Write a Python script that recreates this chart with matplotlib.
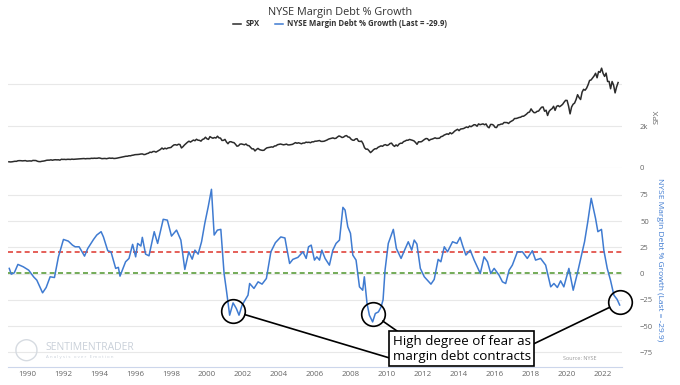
import matplotlib
matplotlib.use("Agg")
import matplotlib.pyplot as plt

plt.rcParams["font.family"] = ["Open Sans", "DejaVu Sans"]

# ---- data ----
spx_start = 1989.0
spx = [
    297, 289, 295, 310, 321, 318, 346, 351, 349, 340, 346, 353,
    329, 332, 340, 331, 361, 358, 356, 323, 306, 304, 322, 330,
    344, 367, 375, 375, 390, 371, 388, 395, 388, 392, 375, 417,
    409, 413, 404, 415, 415, 408, 424, 414, 418, 419, 431, 436,
    439, 443, 452, 440, 450, 451, 448, 464, 459, 468, 462, 466,
    482, 467, 446, 451, 457, 444, 458, 475, 463, 472, 454, 459,
    470, 487, 501, 515, 533, 545, 562, 562, 584, 582, 605, 616,
    636, 640, 645, 654, 669, 671, 640, 652, 687, 705, 757, 741,
    786, 791, 757, 801, 848, 885, 954, 899, 947, 915, 955, 970,
    980, 1049, 1102, 1112, 1091, 1134, 1121, 957, 1017, 1099, 1164, 1229,
    1280, 1238, 1286, 1335, 1302, 1373, 1329, 1320, 1283, 1363, 1389, 1469,
    1394, 1366, 1499, 1452, 1421, 1455, 1431, 1518, 1437, 1429, 1315, 1320,
    1366, 1240, 1160, 1249, 1256, 1224, 1211, 1134, 1041, 1060, 1139, 1148,
    1130, 1107, 1147, 1077, 1067, 990, 912, 916, 815, 886, 936, 880,
    856, 841, 848, 917, 964, 975, 990, 1008, 996, 1051, 1058, 1112,
    1131, 1145, 1126, 1107, 1121, 1141, 1102, 1104, 1115, 1130, 1174, 1212,
    1181, 1204, 1181, 1157, 1192, 1191, 1234, 1220, 1229, 1207, 1249, 1248,
    1280, 1281, 1295, 1311, 1270, 1270, 1277, 1304, 1336, 1378, 1401, 1418,
    1438, 1407, 1421, 1482, 1531, 1503, 1455, 1474, 1527, 1549, 1481, 1468,
    1379, 1331, 1323, 1386, 1400, 1280, 1267, 1283, 1166, 969, 896, 903,
    826, 735, 798, 873, 919, 919, 987, 1021, 1057, 1036, 1096, 1115,
    1074, 1104, 1169, 1187, 1089, 1031, 1102, 1049, 1141, 1183, 1181, 1258,
    1286, 1327, 1326, 1364, 1345, 1321, 1292, 1219, 1131, 1253, 1247, 1258,
    1312, 1366, 1408, 1398, 1310, 1362, 1379, 1407, 1441, 1412, 1416, 1426,
    1498, 1515, 1569, 1598, 1631, 1606, 1686, 1633, 1682, 1757, 1806, 1848,
    1783, 1859, 1872, 1884, 1924, 1960, 1931, 2003, 1972, 2018, 2068, 2059,
    1995, 2105, 2068, 2086, 2107, 2063, 2104, 1972, 1920, 2079, 2080, 2044,
    1940, 1932, 2060, 2065, 2097, 2099, 2174, 2171, 2168, 2126, 2199, 2239,
    2279, 2364, 2363, 2384, 2412, 2423, 2470, 2472, 2519, 2575, 2648, 2674,
    2824, 2714, 2641, 2648, 2705, 2718, 2816, 2902, 2914, 2711, 2760, 2507,
    2704, 2784, 2834, 2946, 2752, 2942, 2980, 2926, 2977, 3038, 3141, 3231,
    3226, 2954, 2585, 2912, 3044, 3100, 3271, 3500, 3363, 3270, 3622, 3756,
    3714, 3811, 3973, 4181, 4204, 4298, 4395, 4523, 4308, 4605, 4567, 4766,
    4516, 4374, 4530, 4132, 4132, 3785, 4130, 3955, 3586, 3872, 4080,
]
spx_years = [spx_start + i / 12 for i in range(len(spx))]

debt_years = [
    1989.02, 1989.13, 1989.30, 1989.50, 1989.80, 1990.10, 1990.37, 1990.55, 1990.87,
    1991.07, 1991.29, 1991.53, 1991.75, 1992.03, 1992.30, 1992.53, 1992.68, 1992.90,
    1993.20, 1993.38, 1993.70, 1993.88, 1994.12, 1994.25, 1994.49, 1994.67, 1994.93,
    1995.08, 1995.17, 1995.48, 1995.67, 1995.87, 1996.04, 1996.15, 1996.33, 1996.41,
    1996.59, 1996.78, 1997.07, 1997.26, 1997.39, 1997.57, 1997.80, 1998.03, 1998.31,
    1998.55, 1998.77, 1998.99, 1999.18, 1999.33, 1999.51, 1999.70, 1999.88, 2000.07,
    2000.25, 2000.40, 2000.58, 2000.77, 2000.95, 2001.08, 2001.26, 2001.45, 2001.63,
    2001.78, 2001.95, 2002.28, 2002.37, 2002.61, 2002.84, 2003.06, 2003.30, 2003.55,
    2003.80, 2004.10, 2004.33, 2004.40, 2004.59, 2004.77, 2005.05, 2005.33, 2005.51,
    2005.64, 2005.79, 2005.97, 2006.10, 2006.25, 2006.38, 2006.56, 2006.80, 2006.99,
    2007.17, 2007.36, 2007.55, 2007.67, 2007.82, 2007.97, 2008.10, 2008.28, 2008.47,
    2008.65, 2008.74, 2008.89, 2009.02, 2009.20, 2009.35, 2009.52, 2009.67, 2009.78,
    2009.89, 2010.07, 2010.35, 2010.52, 2010.78, 2010.96, 2011.18, 2011.37, 2011.51,
    2011.66, 2011.85, 2012.07, 2012.44, 2012.62, 2012.84, 2012.99, 2013.18, 2013.36,
    2013.64, 2013.88, 2014.06, 2014.19, 2014.38, 2014.62, 2014.84, 2015.18, 2015.39,
    2015.58, 2015.76, 2015.95, 2016.22, 2016.41, 2016.59, 2016.78, 2016.96, 2017.24,
    2017.52, 2017.79, 2018.07, 2018.25, 2018.53, 2018.81, 2019.09, 2019.27, 2019.46,
    2019.64, 2019.82, 2020.10, 2020.34, 2020.57, 2020.80, 2020.97, 2021.15, 2021.34,
    2021.58, 2021.71, 2021.91, 2022.04, 2022.23, 2022.41, 2022.60, 2022.78, 2022.92,
]
debt_growth = [
    5.0, -0.5, 0.8, 8.8, 6.5, 3.3, -3.0, -6.2, -18.3,
    -13.2, -3.0, -3.7, 16.0, 32.6, 31.0, 27.2, 25.6, 25.6,
    16.7, 24.0, 32.6, 36.8, 40.0, 35.0, 21.8, 20.8, 5.0,
    6.0, -2.4, 11.3, 14.5, 27.9, 16.0, 28.8, 26.3, 34.6,
    18.6, 17.0, 40.0, 28.8, 38.4, 51.8, 51.0, 35.8, 41.5,
    32.0, 4.0, 20.8, 13.8, 22.4, 18.6, 30.4, 48.0, 63.8,
    80.4, 36.8, 41.5, 42.2, 0.2, -15.8, -39.6, -27.9, -33.2,
    -39.6, -30.0, -20.5, -9.4, -14.1, -7.8, -10.0, -4.6, 20.8,
    29.5, 35.0, 34.0, 27.2, 9.7, 13.6, 15.5, 20.8, 14.5,
    25.6, 27.2, 12.9, 16.0, 12.9, 22.4, 14.5, 8.1, 22.4,
    28.8, 32.0, 63.2, 60.6, 44.7, 38.4, 17.7, 12.9, -12.6,
    -15.8, -3.0, -28.5, -39.6, -46.0, -38.0, -36.5, -31.7, -25.0,
    3.3, 28.8, 42.2, 24.0, 14.5, 21.8, 30.4, 22.4, 32.0,
    28.2, 5.0, -3.0, -10.0, -5.5, 13.6, 11.3, 25.6, 20.8,
    30.4, 28.8, 34.6, 27.2, 17.7, 22.4, 12.9, 0.2, 16.0,
    11.3, 0.2, 5.0, -1.4, -7.8, -9.4, 3.3, 8.1, 20.8,
    20.8, 14.5, 21.8, 12.9, 14.5, 8.1, -12.6, -9.4, -13.2,
    -6.9, -12.6, 5.0, -15.8, 0.2, 17.7, 30.4, 49.5, 71.8,
    52.7, 40.0, 42.2, 22.4, 5.0, -6.2, -20.5, -24.6, -29.9,
]
upper_band = 20.5
lower_band = 1.0

# circled lows and where their callout lines meet the text box
callout_points = [(2001.47, -35.8), (2009.22, -38.7), (2022.96, -27.2)]
callout_targets = [(2010.2, -80.7), (2011.05, -60.6), (2017.98, -68.3)]
callout_text = "High degree of fear as\nmargin debt contracts"
callout_pos = (2014.15, -71.6)

year_ticks = list(range(1990, 2023, 2))
last_value = debt_growth[-1]

SPX_COLOR = "#2b2b2b"
DEBT_COLOR = "#3f7bd1"
GRID = "#e8e8e8"
TICK = "#666666"

fig = plt.figure(figsize=(6.8, 3.85), dpi=100)
ax1 = fig.add_axes([8 / 680, 1 - 168 / 385, 614 / 680, 111 / 385])
ax2 = fig.add_axes([8 / 680, 1 - 367 / 385, 614 / 680, 182 / 385], sharex=ax1)

spx_line, = ax1.plot(spx_years, spx, color=SPX_COLOR, lw=1.1)
debt_line, = ax2.plot(debt_years, debt_growth, color=DEBT_COLOR, lw=1.1, zorder=3)
ax2.axhline(upper_band, color="#e0443c", ls=(0, (3, 2)), lw=1.2, zorder=2)
ax2.axhline(lower_band, color="#5c9e3c", ls=(0, (3, 2)), lw=1.2, zorder=2)

ax1.set_xlim(1988.95, 2023.05)
ax1.set_ylim(0, 5300)
ax2.set_ylim(-89, 84.5)

for ax in (ax1, ax2):
    for s in ax.spines.values():
        s.set_visible(False)
    ax.yaxis.tick_right()
    ax.tick_params(axis="y", length=0, pad=13, labelsize=5.5, labelcolor=TICK)
    ax.grid(axis="y", color=GRID, lw=0.8)
    ax.set_axisbelow(True)

ax1.set_yticks([0, 2000, 4000])
ax1.set_yticklabels(["0", "2k", ""])
ax1.tick_params(axis="x", which="both", length=0, labelbottom=False)

ax2.set_yticks([-75, -50, -25, 0, 25, 50, 75])
ax2.set_xticks(year_ticks)
ax2.set_xticklabels([str(y) for y in year_ticks])
ax2.tick_params(axis="x", length=0, pad=3, labelsize=5.7, labelcolor=TICK)
ax2.spines["bottom"].set_visible(True)
ax2.spines["bottom"].set_color("#ccd6eb")
ax2.spines["bottom"].set_linewidth(0.8)

fig.text(657 / 680, 1 - 117 / 385, "SPX", rotation=90, ha="center", va="center",
         fontsize=6, color=TICK)
fig.text(660 / 680, 1 - 260 / 385, f"NYSE Margin Debt % Growth (Last = {last_value})",
         rotation=270, ha="center", va="center", fontsize=6, color=DEBT_COLOR)

fig.text(0.5, 1 - 12 / 385, "NYSE Margin Debt % Growth", ha="center", va="center",
         fontsize=7.8, color="#333333")
leg = fig.legend([spx_line, debt_line],
                 ["SPX", f"NYSE Margin Debt % Growth (Last = {last_value})"],
                 loc="center", bbox_to_anchor=(0.5, 1 - 24 / 385), ncol=2,
                 frameon=False, handlelength=1.1, handletextpad=0.5, columnspacing=2.0,
                 prop={"size": 5.6, "weight": "bold"})
for t in leg.get_texts():
    t.set_color("#333333")

# callouts
for (cx, cy), (tx, ty) in zip(callout_points, callout_targets):
    ax2.plot(cx, cy, "o", ms=17, mfc="none", mec="black", mew=1.2, zorder=5,
             clip_on=False)
    ax2.annotate("", xy=(tx, ty), xytext=(cx, cy), zorder=4, annotation_clip=False,
                 arrowprops=dict(arrowstyle="-", color="black", lw=1.2,
                                 shrinkA=8.6, shrinkB=0))
ax2.text(callout_pos[0], callout_pos[1], callout_text, ha="center", va="center",
         fontsize=9.6, color="black", linespacing=1.2, zorder=6,
         bbox=dict(boxstyle="square,pad=0.25", fc="white", ec="black", lw=1.2))

# watermark + source
fig.text(26 / 680, 1 - 350 / 385, "\u25EF", fontsize=16, color="#d6dbe1",
         ha="center", va="center", family=["DejaVu Sans"])
fig.text(45 / 680, 1 - 347 / 385, "SENTIMENTRADER", fontsize=7.5, color="#c9d0d9",
         ha="left", va="center")
fig.text(46 / 680, 1 - 357 / 385, "A n a l y s i s   o v e r   E m o t i o n", fontsize=3.2,
         color="#c9d0d9", ha="left", va="center")
fig.text(580 / 680, 1 - 359 / 385, "Source: NYSE", fontsize=4, color="#999999",
         ha="center", va="center")

fig.savefig("out.png", dpi=100)
